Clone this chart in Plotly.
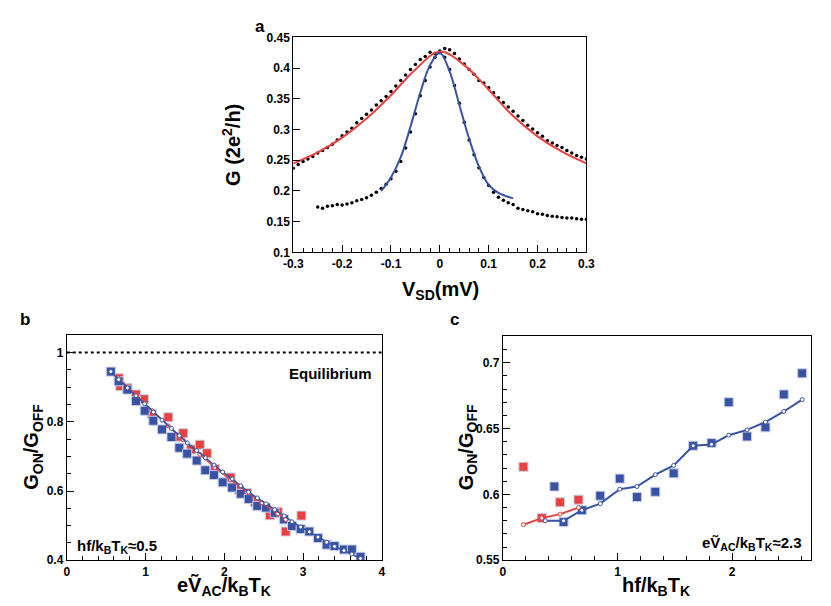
import plotly.graph_objects as go

RED = "#e8413f"
BLUE = "#3953a4"

# panel a: G vs V_SD
a_wide_v = [round(-0.30 + 0.01 * i, 2) for i in range(61)]
a_wide_g = [0.237, 0.243, 0.248, 0.252, 0.256, 0.262, 0.266, 0.271, 0.276, 0.283, 0.290,
            0.296, 0.302, 0.311, 0.318, 0.325, 0.332, 0.340, 0.347, 0.354, 0.362,
            0.371, 0.380, 0.389, 0.398, 0.406, 0.414, 0.419, 0.426, 0.424, 0.428,
            0.432, 0.430, 0.424, 0.415, 0.407, 0.398, 0.390, 0.380, 0.376, 0.368,
            0.360, 0.352, 0.344, 0.337, 0.330, 0.322, 0.315, 0.307, 0.301, 0.295,
            0.289, 0.282, 0.278, 0.274, 0.271, 0.266, 0.262, 0.258, 0.255, 0.252]
a_narrow_v = [round(-0.25 + 0.01 * i, 2) for i in range(56)]
a_narrow_g = [0.174, 0.172, 0.175, 0.176, 0.178, 0.177, 0.179, 0.181, 0.184, 0.186,
              0.189, 0.193, 0.198, 0.204, 0.211, 0.220, 0.232, 0.248, 0.270, 0.296,
              0.326, 0.355, 0.380, 0.402, 0.418, 0.425, 0.418, 0.398, 0.372, 0.343,
              0.312, 0.283, 0.259, 0.238, 0.222, 0.209, 0.198, 0.190, 0.185, 0.181,
              0.178, 0.172, 0.170, 0.168, 0.166, 0.163, 0.162, 0.160, 0.159, 0.158,
              0.157, 0.156, 0.156, 0.155, 0.154, 0.154]
a_red_v = [-0.30, -0.25, -0.20, -0.15, -0.10, -0.05, 0.0, 0.05, 0.10, 0.15, 0.20, 0.25, 0.30]
a_red_g = [0.245, 0.263, 0.287, 0.318, 0.356, 0.398, 0.427, 0.405, 0.365, 0.322, 0.289, 0.264, 0.245]
a_blue_v = [-0.12, -0.10, -0.08, -0.06, -0.04, -0.02, 0.0, 0.02, 0.04, 0.06, 0.08, 0.10, 0.12, 0.15]
a_blue_g = [0.200, 0.222, 0.255, 0.305, 0.360, 0.405, 0.425, 0.395, 0.340, 0.285, 0.240, 0.210, 0.197, 0.188]

# panel b: G_ON/G_OFF vs eV_AC/kT_K
b_blue_x = [0.56, 0.66, 0.77, 0.88, 0.99, 1.10, 1.21, 1.33, 1.43, 1.53, 1.65, 1.76, 1.87, 1.98,
            2.10, 2.21, 2.31, 2.42, 2.53, 2.64, 2.76, 2.86, 2.97, 3.08, 3.19, 3.30, 3.40, 3.52,
            3.62, 3.73]
b_blue_y = [0.945, 0.917, 0.893, 0.860, 0.832, 0.803, 0.778, 0.756, 0.725, 0.708, 0.688, 0.660,
            0.646, 0.625, 0.610, 0.592, 0.577, 0.557, 0.552, 0.537, 0.518, 0.499, 0.490, 0.483,
            0.464, 0.445, 0.441, 0.431, 0.431, 0.410]
b_blue_fit = [0.945, 0.922, 0.898, 0.875, 0.852, 0.828, 0.805, 0.781, 0.760, 0.739, 0.717, 0.696,
              0.675, 0.655, 0.635, 0.615, 0.597, 0.580, 0.563, 0.546, 0.528, 0.511, 0.496, 0.482,
              0.467, 0.452, 0.440, 0.428, 0.418, 0.405]
b_red_x = [0.66, 0.68, 0.77, 0.88, 0.98, 1.08, 1.29, 1.41, 1.48, 1.58, 1.69, 1.78, 1.88, 2.08,
           2.19, 2.29, 2.39, 2.58, 2.68, 2.78, 2.98]
b_red_y = [0.926, 0.903, 0.898, 0.879, 0.865, 0.823, 0.813, 0.757, 0.767, 0.720, 0.734, 0.709,
           0.664, 0.639, 0.603, 0.594, 0.568, 0.530, 0.540, 0.483, 0.529]
b_red_fit_x = [0.66, 0.88, 1.08, 1.29, 1.48, 1.69, 1.88, 2.08, 2.29, 2.48, 2.68, 2.78]
b_red_fit_y = [0.925, 0.877, 0.832, 0.788, 0.748, 0.706, 0.668, 0.632, 0.596, 0.566, 0.534, 0.518]

# panel c: G_ON/G_OFF vs hf/kT_K
c_blue_x = [0.45, 0.53, 0.69, 0.85, 1.02, 1.17, 1.33, 1.49, 1.66, 1.82, 1.97, 2.13, 2.29, 2.45, 2.61]
c_blue_y = [0.606, 0.579, 0.588, 0.599, 0.612, 0.598, 0.602, 0.616, 0.637, 0.639, 0.670, 0.644,
            0.651, 0.676, 0.692]
c_blue_fit_x = [0.37, 0.53, 0.69, 0.85, 1.02, 1.17, 1.33, 1.49, 1.66, 1.82, 1.97, 2.13, 2.29, 2.45, 2.61]
c_blue_fit_y = [0.580, 0.580, 0.588, 0.593, 0.604, 0.606, 0.615, 0.622, 0.637, 0.638, 0.645,
                0.649, 0.655, 0.663, 0.672]
c_red_x = [0.18, 0.34, 0.50, 0.66]
c_red_y = [0.621, 0.582, 0.594, 0.596]
c_red_fit_y = [0.577, 0.582, 0.585, 0.590]

FONT = "Liberation Sans, Arial, sans-serif"
tickfont = dict(family=FONT, size=12, color="black", weight="bold")


def sq(color):
    return dict(symbol="square", size=9, color=color, line=dict(color="#c8cde6", width=1))


def ring(color):
    return dict(symbol="circle", size=4, color="white", line=dict(color=color, width=1))


fig = go.Figure()

# panel a
fig.add_trace(go.Scatter(x=a_wide_v, y=a_wide_g, mode="markers", marker=dict(color="black", size=3.5),
                         xaxis="x", yaxis="y"))
fig.add_trace(go.Scatter(x=a_narrow_v, y=a_narrow_g, mode="markers", marker=dict(color="black", size=3.5),
                         xaxis="x", yaxis="y"))
fig.add_trace(go.Scatter(x=a_red_v, y=a_red_g, mode="lines", line=dict(color=RED, width=2, shape="spline"),
                         xaxis="x", yaxis="y"))
fig.add_trace(go.Scatter(x=a_blue_v, y=a_blue_g, mode="lines", line=dict(color=BLUE, width=2, shape="spline"),
                         xaxis="x", yaxis="y"))

# panel b
fig.add_trace(go.Scatter(x=[0, 4], y=[1, 1], mode="lines", line=dict(color="black", width=2, dash="dot"),
                         xaxis="x2", yaxis="y2"))
fig.add_trace(go.Scatter(x=b_red_x, y=b_red_y, mode="markers", marker=sq(RED), xaxis="x2", yaxis="y2"))
fig.add_trace(go.Scatter(x=b_blue_x, y=b_blue_y, mode="markers", marker=sq(BLUE), xaxis="x2", yaxis="y2"))
fig.add_trace(go.Scatter(x=b_red_fit_x, y=b_red_fit_y, mode="lines+markers", line=dict(color=RED, width=1.5),
                         marker=ring(RED), xaxis="x2", yaxis="y2"))
fig.add_trace(go.Scatter(x=b_blue_x, y=b_blue_fit, mode="lines+markers", line=dict(color=BLUE, width=1.5),
                         marker=ring(BLUE), xaxis="x2", yaxis="y2"))

# panel c
fig.add_trace(go.Scatter(x=c_red_x, y=c_red_y, mode="markers", marker=sq(RED), xaxis="x3", yaxis="y3"))
fig.add_trace(go.Scatter(x=c_blue_x, y=c_blue_y, mode="markers", marker=sq(BLUE), xaxis="x3", yaxis="y3"))
fig.add_trace(go.Scatter(x=c_red_x, y=c_red_fit_y, mode="lines+markers", line=dict(color=RED, width=2),
                         marker=ring(RED), xaxis="x3", yaxis="y3"))
fig.add_trace(go.Scatter(x=c_blue_fit_x, y=c_blue_fit_y, mode="lines+markers", line=dict(color=BLUE, width=2),
                         marker=ring(BLUE), xaxis="x3", yaxis="y3"))


def ax(domain, rng, tickvals, ticktext, minor, anchor):
    return dict(domain=domain, range=rng, tickvals=tickvals, ticktext=ticktext, ticks="inside",
                ticklen=7, tickcolor="black", tickfont=tickfont, showline=True, linecolor="black",
                linewidth=1, mirror=True, showgrid=False, zeroline=False, anchor=anchor,
                minor=dict(tickvals=minor, ticks="inside", ticklen=4, tickcolor="black", showgrid=False))


fig.update_layout(
    width=831, height=606, margin=dict(l=0, r=0, t=0, b=0),
    paper_bgcolor="white", plot_bgcolor="white", showlegend=False,
    xaxis=ax([0.339, 0.700], [-0.3, 0.3], [-0.3, -0.2, -0.1, 0, 0.1, 0.2, 0.3],
             ["-0.3", "-0.2", "-0.1", "0", "0.1", "0.2", "0.3"],
             [round(-0.3 + 0.02 * i, 2) for i in range(31)], "y"),
    yaxis=ax([0.599, 0.962], [0.1, 0.45], [0.1, 0.15, 0.2, 0.25, 0.3, 0.35, 0.4, 0.45],
             ["0.1", "0.15", "0.2", "0.25", "0.3", "0.35", "0.4", "0.45"], [], "x"),
    xaxis2=ax([0.060, 0.448], [0, 4], [0, 1, 2, 3, 4], ["0", "1", "2", "3", "4"],
              [0.2 * i for i in range(21)], "y2"),
    yaxis2=ax([0.079, 0.459], [0.4, 1.05], [0.4, 0.6, 0.8, 1], ["0.4", "0.6", "0.8", "1"],
              [0.4 + 0.05 * i for i in range(14)], "x2"),
    xaxis3=ax([0.597, 0.977], [0, 2.69], [0, 1, 2], ["0", "1", "2"],
              [0.2 * i for i in range(14)], "y3"),
    yaxis3=ax([0.079, 0.457], [0.55, 0.72], [0.55, 0.6, 0.65, 0.7], ["0.55", "0.6", "0.65", "0.7"],
              [0.55 + 0.01 * i for i in range(18)], "x3"),
)

big = dict(family=FONT, size=20, color="black", weight="bold")
small = dict(family=FONT, size=15, color="black", weight="bold")
letter = dict(family=FONT, size=17, color="black", weight="bold")
titles = [
    (0.520, 0.535, "V<sub>SD</sub>(mV)", 0),
    (0.262, 0.780, "G (2e<sup>2</sup>/h)", -90),
    (0.254, 0.035, "eṼ<sub>AC</sub>/k<sub>B</sub>T<sub>K</sub>", 0),
    (0.018, 0.270, "G<sub>ON</sub>/G<sub>OFF</sub>", -90),
    (0.786, 0.035, "hf/k<sub>B</sub>T<sub>K</sub>", 0),
    (0.553, 0.270, "G<sub>ON</sub>/G<sub>OFF</sub>", -90),
]
for x, y, t, ang in titles:
    fig.add_annotation(x=x, y=y, xref="paper", yref="paper", text=t, showarrow=False, font=big,
                       textangle=ang, xanchor="center", yanchor="middle")
for x, y, t in [(0.290, 1.0, "a"), (0.0, 0.505, "b"), (0.530, 0.505, "c")]:
    fig.add_annotation(x=x, y=y, xref="paper", yref="paper", text=t, showarrow=False, font=letter,
                       xanchor="left", yanchor="top")
fig.add_annotation(x=3.9, y=0.97, xref="x2", yref="y2", text="Equilibrium", showarrow=False,
                   font=small, xanchor="right", yanchor="top")
fig.add_annotation(x=0.1, y=0.44, xref="x2", yref="y2", text="hf/k<sub>B</sub>T<sub>K</sub>≈0.5",
                   showarrow=False, font=small, xanchor="left", yanchor="middle")
fig.add_annotation(x=2.63, y=0.563, xref="x3", yref="y3",
                   text="eṼ<sub>AC</sub>/k<sub>B</sub>T<sub>K</sub>≈2.3",
                   showarrow=False, font=small, xanchor="right", yanchor="middle")

fig.write_html("out.html")
